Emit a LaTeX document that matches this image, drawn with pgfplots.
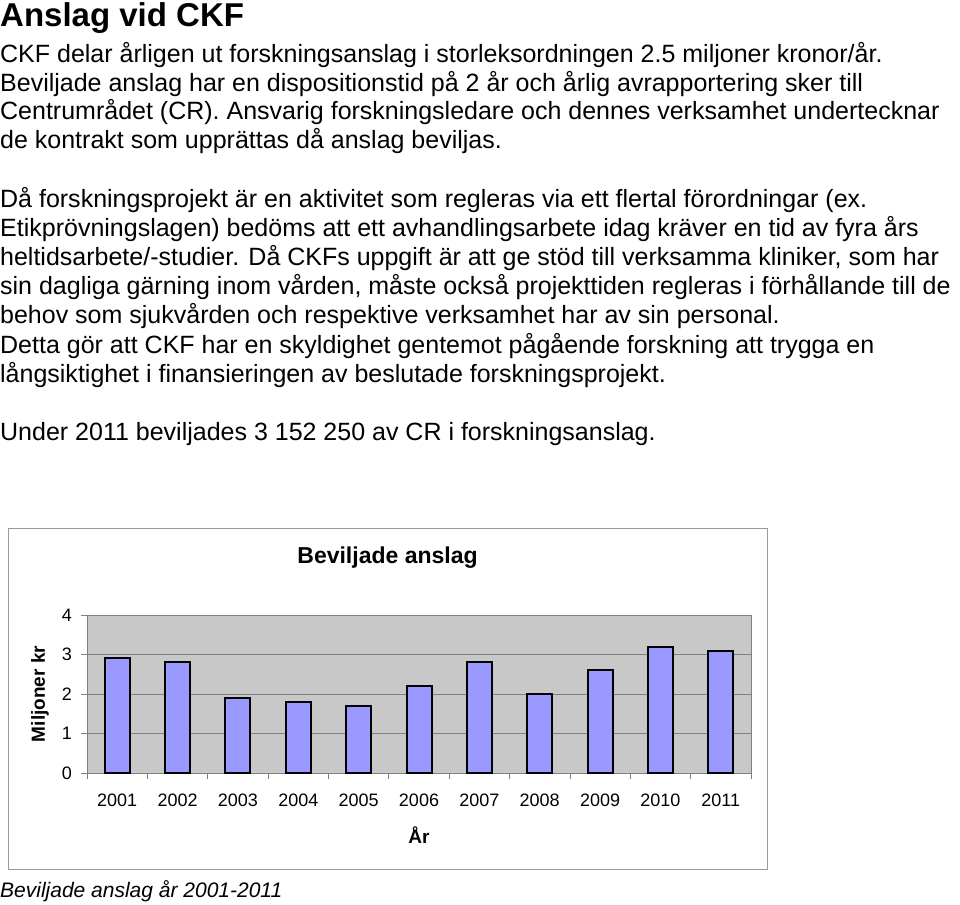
\documentclass[border=0pt]{standalone}
\usepackage{fontspec}
\setmainfont{Liberation Sans}
\usepackage{pgfplots}
\pgfplotsset{compat=1.18}
\definecolor{plotbg}{RGB}{200,200,200}
\definecolor{barfill}{RGB}{153,153,255}
\definecolor{gridc}{RGB}{128,128,128}
\begin{document}
\begin{tikzpicture}
\useasboundingbox (0pt,0pt) rectangle (960pt,-904pt);
\node[anchor=base west, inner sep=0pt, font=\fontsize{33}{38}\selectfont\bfseries] at (0pt,-27pt) {Anslag vid CKF};
\begin{scope}[every node/.style={anchor=base west, inner sep=0pt, font=\fontsize{25}{29}\selectfont}]
\node at (0pt,-63pt) {CKF delar årligen ut forskningsanslag i storleksordningen 2.5 miljoner kronor/år.};
\node at (0pt,-92pt) {Beviljade anslag har en dispositionstid på 2 år och årlig avrapportering sker till};
\node at (0pt,-120pt) {Centrumrådet (CR). Ansvarig forskningsledare och dennes verksamhet undertecknar};
\node at (0pt,-149pt) {de kontrakt som upprättas då anslag beviljas.};
\node at (0pt,-207pt) {Då forskningsprojekt är en aktivitet som regleras via ett flertal förordningar (ex.};
\node at (0pt,-236pt) {Etikprövningslagen) bedöms att ett avhandlingsarbete idag kräver en tid av fyra års};
\node at (0pt,-265pt) {heltidsarbete/-studier. Då CKFs uppgift är att ge stöd till verksamma kliniker, som har};
\node at (0pt,-294pt) {sin dagliga gärning inom vården, måste också projekttiden regleras i förhållande till de};
\node at (0pt,-323pt) {behov som sjukvården och respektive verksamhet har av sin personal.};
\node at (0pt,-353pt) {Detta gör att CKF har en skyldighet gentemot pågående forskning att trygga en};
\node at (0pt,-382pt) {långsiktighet i finansieringen av beslutade forskningsprojekt.};
\node at (0pt,-440pt) {Under 2011 beviljades 3 152 250 av CR i forskningsanslag.};
\end{scope}
\draw[gridc!80, line width=1pt] (8pt,-528pt) rectangle (767pt,-869pt);
\begin{axis}[
  at={(87pt,-773pt)}, anchor=south west,
  scale only axis, width=664pt, height=158pt,
  xmin=-0.5, xmax=10.5, ymin=0, ymax=4,
  ybar, bar width=25pt,
  axis background/.style={fill=plotbg},
  axis line style={gridc, line width=1pt},
  ymajorgrids, grid style={gridc, line width=0.8pt},
  xtick={0,...,10},
  xticklabels={2001,2002,2003,2004,2005,2006,2007,2008,2009,2010,2011},
  major x tick style={draw=none},
  minor xtick={-0.5,0.5,...,10.5},
  ytick={0,1,2,3,4},
  tick style={gridc, line width=0.8pt},
  tick align=outside, xtick pos=bottom, ytick pos=left,
  major tick length=6pt, minor tick length=6pt,
  ticklabel style={font=\fontsize{18}{20}\selectfont},
  /pgf/number format/assume math mode=true,
  xticklabel style={anchor=north, inner sep=0pt, yshift=-15pt},
  yticklabel style={anchor=east, inner sep=0pt, xshift=-9pt},
  title={Beviljade anslag},
  title style={at={(axis description cs:0.4526,1.29)}, anchor=base, font=\fontsize{23}{26}\selectfont\bfseries},
  xlabel={År},
  xlabel style={at={(axis description cs:0.5,-0.392)}, anchor=center, font=\fontsize{19}{22}\selectfont\bfseries},
  ylabel={Miljoner kr},
  ylabel style={at={(axis description cs:-0.0707,0.5)}, anchor=center, font=\fontsize{19}{22}\selectfont\bfseries},
]
\addplot[fill=barfill, draw=black, line width=2pt] coordinates {
(0,2.9) (1,2.8) (2,1.9) (3,1.8) (4,1.7) (5,2.2) (6,2.8) (7,2.0) (8,2.6) (9,3.2) (10,3.1)};
\end{axis}
\node[anchor=base west, inner sep=0pt, font=\fontsize{21}{24}\selectfont\itshape] at (0pt,-897pt) {Beviljade anslag år 2001-2011};
\end{tikzpicture}
\end{document}
